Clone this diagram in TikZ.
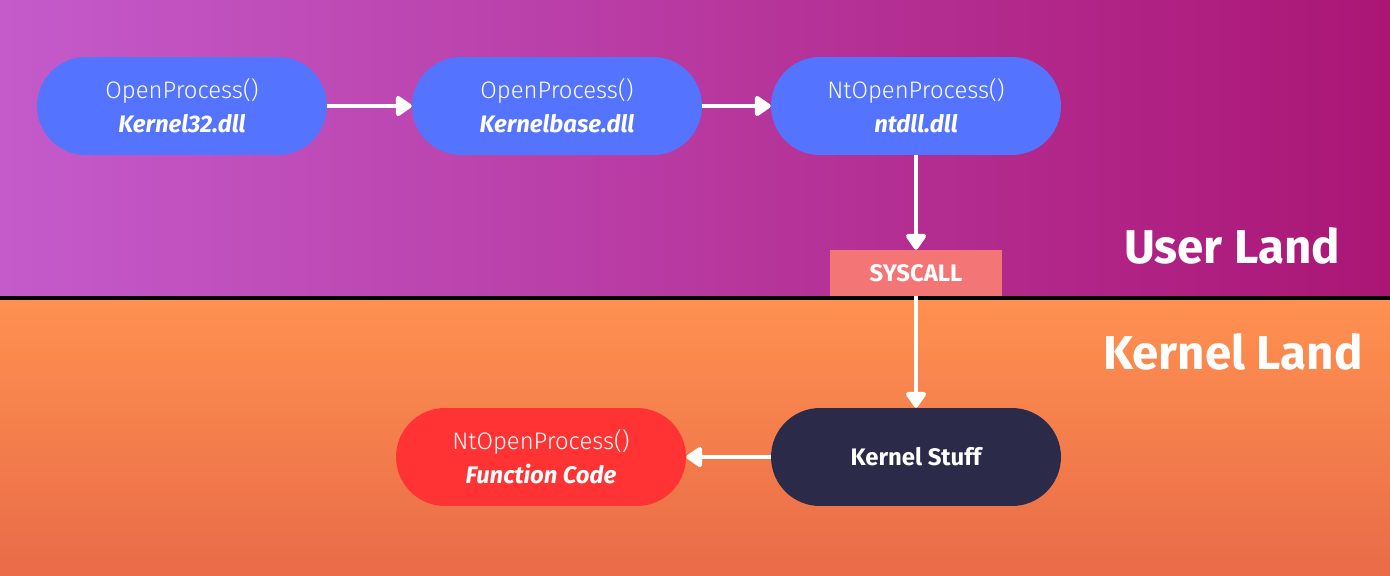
\documentclass[tikz,border=0pt]{standalone}
\usepackage{fontspec}
\setmainfont{Fira Sans}
\newfontfamily\lightfont{Fira Sans Light}
\usetikzlibrary{arrows.meta}
\definecolor{purpL}{HTML}{C45BCB}
\definecolor{purpR}{HTML}{AB1674}
\definecolor{orT}{HTML}{FF9150}
\definecolor{orB}{HTML}{E96B48}
\definecolor{nodeblue}{HTML}{5474FF}
\definecolor{sysred}{HTML}{F47575}
\definecolor{kdark}{HTML}{2B2A48}
\definecolor{fred}{HTML}{FF3333}
\tikzset{
  pill/.style={draw=none, rounded corners=0.98cm, minimum width=5.8cm, minimum height=1.96cm,
    inner sep=0pt, align=center, text=white, font=\fontsize{13.6}{19.3}\selectfont},
  flow/.style={draw=white, line width=2.8pt, -{Triangle[length=10pt,width=13pt,round]}},
  land/.style={text=white, font=\fontsize{27}{30}\selectfont\bfseries},
}
\newcommand{\fname}[1]{{\lightfont #1}}
\newcommand{\dname}[1]{\textbf{\textit{#1}}}
\begin{document}
\begin{tikzpicture}[x=0.02cm, y=-0.02cm]
\useasboundingbox (0,0) rectangle (1390,575);
\shade[left color=purpL, right color=purpR] (0,0) rectangle (1390,298);
\shade[top color=orT, bottom color=orB] (0,298) rectangle (1390,575);
\fill[black] (0,296) rectangle (1390,300);

\node[pill, fill=nodeblue] (k32) at (182,106) {\fname{OpenProcess()}\\\dname{Kernel32.dll}};
\node[pill, fill=nodeblue] (kb) at (557,106) {\fname{OpenProcess()}\\\dname{Kernelbase.dll}};
\node[pill, fill=nodeblue] (nt) at (916,106) {\fname{NtOpenProcess()}\\\dname{ntdll.dll}};
\node[draw=none, fill=sysred, minimum width=3.44cm, minimum height=0.92cm, inner sep=0pt,
  text=white, font=\fontsize{13.6}{16}\selectfont\bfseries] (sys) at (916,273) {SYSCALL};
\node[pill, fill=kdark, font=\fontsize{13.6}{19.3}\selectfont\bfseries] (ks) at (916,457) {Kernel Stuff};
\node[pill, fill=fred] (fc) at (541,457) {\fname{NtOpenProcess()}\\\dname{Function Code}};

\node[land] (ul) at (1232,246) {User Land};
\node[land] (kl) at (1233,352) {Kernel Land};

\draw[flow] (k32) -- (kb);
\draw[flow] (kb) -- (nt);
\draw[flow] (nt) -- (sys);
\draw[flow] (sys) -- (ks);
\draw[flow] (ks) -- (fc);
\end{tikzpicture}
\end{document}
